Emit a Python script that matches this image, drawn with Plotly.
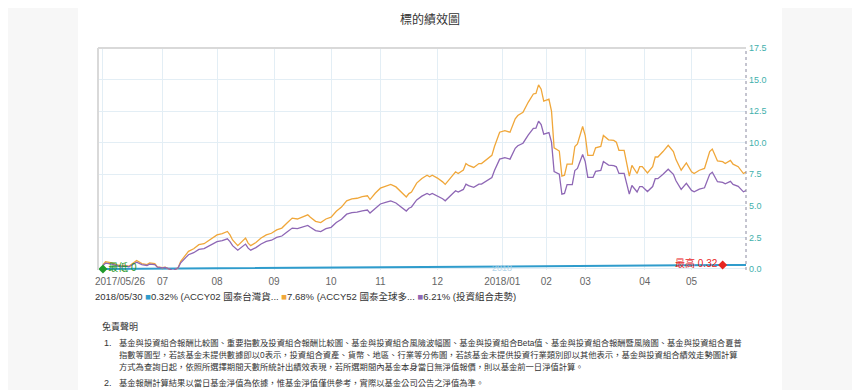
import plotly.graph_objects as go

# ---------------- data (trading-day index along an ordinal axis) ----------------
day_index = [0, 1, 3, 5, 7, 8, 10, 13, 15, 17, 18, 20, 21, 23, 24, 26, 27, 29, 30, 32,
             33, 35, 37, 39, 41, 42, 44, 46, 48, 49, 50, 52, 53, 54, 55, 56, 57, 59, 61, 63,
             65, 67, 69, 71, 73, 75, 77, 79, 80, 82, 84, 86, 88, 90, 92, 94, 96, 98, 100, 102,
             103, 105, 107, 109, 111, 113, 115, 117, 118, 119, 121, 123, 125, 126, 127, 129, 131, 132, 134, 136,
             137, 139, 140, 141, 143, 145, 146, 148, 150, 151, 153, 155, 157, 159, 160, 162, 164, 166, 167, 168,
             169, 170, 172, 173, 174, 176, 177, 178, 179, 181, 182, 183, 185, 186, 187, 189, 190, 192, 193, 195,
             197, 198, 199, 201, 202, 203, 204, 206, 207, 208, 210, 212, 213, 214, 216, 218, 220, 221, 223, 225,
             227, 228, 230, 232, 234, 235, 237, 239, 240, 242, 243, 245, 247, 248]

accy52_pct = [0.35, 0.57, 0.50, 0.35, 0.22, 0.30, 0.22, 0.67, 0.43, 0.35, 0.48, 0.43, 0.17, 0.10, 0.14, -0.05, -0.18, 0.10, 0.60, 1.14,
              1.40, 1.60, 1.93, 2.00, 2.30, 2.43, 2.70, 2.80, 2.97, 2.70, 2.30, 1.85, 2.05, 2.20, 2.45, 2.05, 1.85, 2.10, 2.45, 2.70,
              2.83, 3.10, 3.24, 3.64, 4.03, 3.96, 4.10, 4.29, 4.10, 3.77, 3.67, 3.96, 4.10, 4.57, 4.90, 5.40, 5.56, 5.60, 5.73, 5.80,
              5.50, 6.00, 6.40, 6.55, 6.70, 6.50, 6.10, 5.70, 5.97, 6.10, 6.80, 7.17, 7.43, 7.30, 7.43, 7.20, 6.90, 6.70, 7.20, 7.70,
              7.56, 7.83, 8.35, 8.20, 8.04, 8.35, 8.35, 8.66, 9.00, 9.70, 10.83, 10.96, 10.83, 11.90, 12.15, 12.40, 13.20, 13.86, 13.90, 14.58,
              14.24, 13.30, 13.45, 12.50, 9.60, 9.34, 7.35, 7.43, 8.30, 8.30, 9.70, 9.90, 11.28, 10.57, 9.00, 9.00, 9.60, 9.70, 10.57, 10.23,
              10.18, 10.05, 9.40, 9.40, 8.20, 7.35, 8.20, 7.56, 8.10, 8.10, 7.60, 8.10, 8.87, 8.87, 9.30, 9.80, 9.30, 8.66, 7.82, 8.40,
              7.70, 7.56, 7.82, 7.96, 9.30, 9.50, 8.56, 8.50, 8.35, 8.60, 8.30, 8.10, 7.56, 7.68]

portfolio_pct = [0.28, 0.46, 0.40, 0.28, 0.18, 0.24, 0.18, 0.54, 0.35, 0.28, 0.39, 0.35, 0.14, 0.09, 0.12, -0.03, -0.13, 0.09, 0.49, 0.92,
                 1.13, 1.29, 1.55, 1.61, 1.85, 1.95, 2.17, 2.25, 2.39, 2.17, 1.85, 1.49, 1.65, 1.77, 1.97, 1.65, 1.49, 1.69, 1.98, 2.18,
                 2.28, 2.50, 2.61, 2.93, 3.24, 3.19, 3.30, 3.45, 3.30, 3.04, 2.96, 3.19, 3.30, 3.68, 3.94, 4.34, 4.47, 4.50, 4.61, 4.67,
                 4.43, 4.83, 5.15, 5.27, 5.39, 5.23, 4.91, 4.59, 4.81, 4.91, 5.47, 5.77, 5.98, 5.88, 5.98, 5.80, 5.56, 5.40, 5.80, 6.20,
                 6.09, 6.30, 6.72, 6.60, 6.47, 6.72, 6.72, 6.97, 7.24, 7.80, 8.70, 8.81, 8.70, 9.56, 9.76, 9.96, 10.60, 11.13, 11.16, 11.71,
                 11.43, 10.68, 10.80, 10.04, 7.72, 7.51, 5.92, 5.98, 6.68, 6.68, 7.80, 7.96, 9.07, 8.50, 7.25, 7.25, 7.73, 7.81, 8.51, 8.23,
                 8.19, 8.09, 7.57, 7.57, 6.61, 5.93, 6.61, 6.10, 6.53, 6.53, 6.13, 6.53, 7.15, 7.15, 7.50, 7.90, 7.50, 6.99, 6.31, 6.78,
                 6.22, 6.11, 6.32, 6.43, 7.50, 7.66, 6.91, 6.86, 6.74, 6.94, 6.70, 6.54, 6.11, 6.21]

accy02_index = [0, 30, 60, 90, 120, 150, 180, 210, 239, 248]
accy02_pct = [0.00, 0.03, 0.07, 0.11, 0.15, 0.19, 0.23, 0.27, 0.32, 0.32]

min_point = (0, 0.0)
max_point = (239, 0.32)

month_tick_index = [0, 23, 44, 66, 88, 107, 129, 154, 171, 186, 209, 227]
month_tick_text = ['', '07', '08', '09', '10', '11', '12', '2018/01', '02', '03', '04', '05']
first_date_label = '2017/05/26'
y_ticks = [0, 2.5, 5, 7.5, 10, 12.5, 15, 17.5]

legend_date = '2018/05/30'
series_names = ['0.32% (ACCY02 國泰台灣貨...', '7.68% (ACCY52 國泰全球多...', '6.21% (投資組合走勢)']

# ---------------- style / layout ----------------
OFF = 8                      # the page body adds an 8 px margin
W, H = 860 - OFF, 390 - OFF
L, R, T, B = 98, 746, 48, 270  # plot box in screen pixels
BLUE, ORANGE, PURPLE = '#2f9ccc', '#f0a73a', '#8e67b5'
FONT = 'Liberation Sans, Noto Sans CJK TC, sans-serif'


def px2x(p):
    return (p - L) / (R - L)


def px2y(q):
    return (B - q) / (B - T)


fig = go.Figure()

fig.add_trace(go.Scatter(x=accy02_index, y=accy02_pct, mode='lines',
                         line=dict(color=BLUE, width=2), hoverinfo='skip'))
fig.add_trace(go.Scatter(x=day_index, y=accy52_pct, mode='lines',
                         line=dict(color=ORANGE, width=1.3), hoverinfo='skip'))
fig.add_trace(go.Scatter(x=day_index, y=portfolio_pct, mode='lines',
                         line=dict(color=PURPLE, width=1.3), hoverinfo='skip'))

fig.add_trace(go.Scatter(x=[min_point[0]], y=[min_point[1]], mode='markers+text',
                         marker=dict(symbol='diamond', size=7, color='#1f9a2a'),
                         text=['最低 0'], textposition='middle right',
                         textfont=dict(color='#1f9a2a', size=10, family=FONT),
                         cliponaxis=False, hoverinfo='skip'))
fig.add_trace(go.Scatter(x=[max_point[0]], y=[max_point[1]], mode='markers+text',
                         marker=dict(symbol='diamond', size=7, color='#e8261f'),
                         text=['最高 0.32'], textposition='middle left',
                         textfont=dict(color='#e8261f', size=10, family=FONT),
                         cliponaxis=False, hoverinfo='skip'))

shapes = [
    dict(type='rect', xref='paper', yref='paper', x0=px2x(-20), x1=px2x(78), y0=px2y(410), y1=px2y(-20),
         fillcolor='#f7f7f7', line=dict(width=0), layer='below'),
    dict(type='rect', xref='paper', yref='paper', x0=px2x(782), x1=px2x(880), y0=px2y(410), y1=px2y(-20),
         fillcolor='#f7f7f7', line=dict(width=0), layer='below'),
    dict(type='line', xref='paper', yref='paper', x0=0, x1=1, y0=1, y1=1,
         line=dict(color='#d9d9d9', width=2)),
    dict(type='line', xref='paper', yref='paper', x0=0, x1=0, y0=0, y1=1,
         line=dict(color='#d9d9d9', width=2)),
    dict(type='line', xref='paper', yref='paper', x0=1, x1=1, y0=0, y1=1,
         line=dict(color='#8a8aa0', width=1, dash='dot')),
]

annotations = [
    dict(text=first_date_label, xref='x', yref='paper', x=0, y=px2y(281), xanchor='left', yanchor='middle',
         xshift=-10, showarrow=False, font=dict(size=10, color='#666666', family=FONT)),
    dict(text='2018', xref='x', yref='paper', x=154, y=px2y(268), xanchor='center', yanchor='middle',
         showarrow=False, font=dict(size=9, color='#b5d6ea', family=FONT)),
    dict(text=(f'{legend_date} <span style="color:{BLUE}">■</span>{series_names[0]} '
               f'<span style="color:{ORANGE}">■</span>{series_names[1]} '
               f'<span style="color:{PURPLE}">■</span>{series_names[2]}'),
         xref='paper', yref='paper', x=px2x(93), y=px2y(296), xanchor='left', yanchor='middle',
         showarrow=False, font=dict(size=9.5, color='#333333', family=FONT)),
    dict(text='免責聲明', xref='paper', yref='paper', x=px2x(100), y=px2y(326), xanchor='left', yanchor='middle',
         showarrow=False, font=dict(size=9, color='#333333', family=FONT)),
]

disclaimer_lines = [
    ('1.', '基金與投資組合報酬比較圖、重要指數及投資組合報酬比較圖、基金與投資組合風險波幅圖、基金與投資組合Beta值、基金與投資組合報酬暨風險圖、基金與投資組合夏普', 343),
    ('', '指數等圖型，若該基金未提供數據即以0表示，投資組合資產、貨幣、地區、行業等分佈圖，若該基金未提供投資行業類別即以其他表示，基金與投資組合績效走勢圖計算', 355),
    ('', '方式為查詢日起，依照所選擇期間天數所統計出績效表現，若所選期間內基金本身當日無淨值報價，則以基金前一日淨值計算。', 367),
    ('2.', '基金報酬計算結果以當日基金淨值為依據，惟基金淨值僅供參考，實際以基金公司公告之淨值為準。', 383),
]
for num, txt, yy in disclaimer_lines:
    if num:
        annotations.append(dict(text=num, xref='paper', yref='paper', x=px2x(102), y=px2y(yy),
                                xanchor='left', yanchor='middle', showarrow=False,
                                font=dict(size=9, color='#333333', family=FONT)))
    annotations.append(dict(text=txt, xref='paper', yref='paper', x=px2x(117), y=px2y(yy),
                            xanchor='left', yanchor='middle', showarrow=False,
                            font=dict(size=8.3, color='#333333', family=FONT)))

fig.update_layout(
    width=W, height=H, autosize=False,
    margin=dict(l=L - OFF, r=(860 - R), t=T - OFF, b=(390 - B), pad=0),
    paper_bgcolor='#ffffff', plot_bgcolor='#ffffff',
    showlegend=False,
    title=dict(text='標的績效圖', x=0.5 * 860 / W - OFF / W, xref='container', xanchor='center',
               y=1 - (20 - OFF) / H, yanchor='middle',
               font=dict(size=12, color='#333333', family=FONT)),
    xaxis=dict(range=[-1.9, 248], tickmode='array', tickvals=month_tick_index, ticktext=month_tick_text,
               showgrid=True, gridcolor='#e3eef5', gridwidth=1, zeroline=False, showline=False,
               ticks='', ticklabelstandoff=4,
               tickfont=dict(size=10, color='#666666', family=FONT), fixedrange=True),
    yaxis=dict(range=[-0.08, 17.5], side='right', tickmode='array', tickvals=y_ticks,
               ticktext=[f'{v:.1f}' for v in y_ticks], showgrid=True, gridcolor='#e3eef5', gridwidth=1,
               zeroline=False, showline=False, ticks='', ticklabelstandoff=2,
               tickfont=dict(size=9, color='#3fb0ac', family=FONT), fixedrange=True),
    shapes=shapes, annotations=annotations,
)

fig.write_html('out.html')
